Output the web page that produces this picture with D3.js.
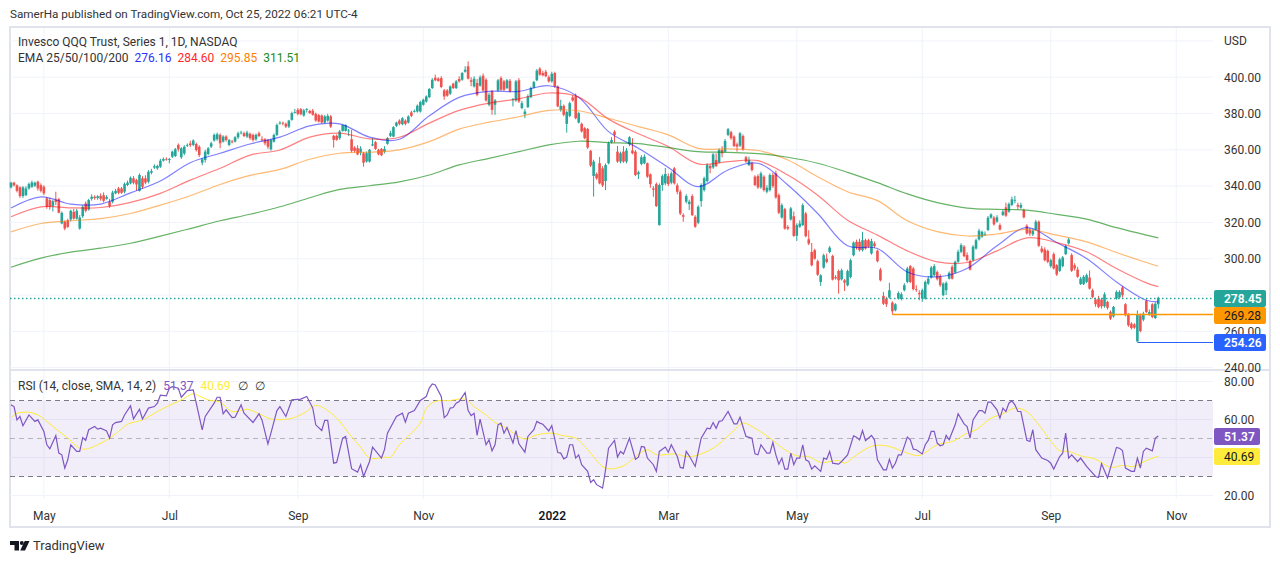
<!DOCTYPE html>
<html>
<head>
<meta charset="utf-8">
<script src="https://d3js.org/d3.v7.min.js"></script>
<style>
  html, body { margin: 0; padding: 0; background: #fff; }
  svg { display: block; }
  text { font-family: Roboto, sans-serif; font-size: 12px; fill: #333; }
</style>
</head>
<body>
<svg id="chart" width="1280" height="563"></svg>
<script>
// candles, ten per row
var opens = [
339.3,341.9,340.5,339.3,334.5,335,338.7,339.6,340.2,342.4,
340.5,339.6,333.2,332.3,329,332.6,332.8,319.4,320.3,321.2,
321.6,325.8,322.1,316.6,323.4,330.4,327.1,333,334.1,333.4,
334.6,335,333,331.4,331.4,336,338.7,338.7,336.9,340.6,
341.5,344.3,343.3,337.4,344.3,344.3,342.4,347.4,350.2,349.8,
350.7,354,355,354.4,356.2,356.6,362.7,355.9,358,362.5,
363.5,362.7,363.2,361.7,352.9,354.4,357.7,361.7,365.1,365.8,
368.2,364.5,367.3,362.7,364.6,364.5,366.9,369.4,369.1,367.3,
368.8,368.2,365.8,369.1,365.8,365.8,365.4,360.3,364.5,368.2,
374.6,374.9,374.3,372.8,376.5,380.4,382,382.4,378.9,382.1,
381.5,381.5,379.8,379.1,378.9,375,376.1,378.4,367.7,367.7,
366.4,370.4,370.4,370.4,365.8,361.2,360.9,358.5,358.1,353.5,
353.5,362.3,364.2,360,360.5,359,363.3,367.7,367.3,373.2,
376.1,374.1,376.1,375,380.6,381,381.1,381.1,384.8,386.6,
389,394,399.7,399.2,399.5,392.7,392.7,390.9,396.4,394,
399,398.6,403,406,398.3,394.9,396.8,395.3,400.8,398.6,
384.8,392.2,384.8,392.7,399.5,397.7,394,398,387.7,387.2,
398.3,383,379.6,383.5,389,394.2,398.3,404.7,402.3,403,
400,397.7,402.3,394.9,382,384.2,374.3,378.7,388.9,389.4,
375,374.3,371.9,371.5,359.4,345.6,346.7,352.6,349.8,342.8,
352.6,364.2,370,359,353.5,359,353.5,363,359.6,359,
346.5,352.2,352.6,352.6,346.5,338.7,341.1,318.5,340.6,341.5,
345.5,341.9,349.8,340.4,336.9,324,331.4,330.1,334.5,323.1,
319.8,331.7,337.8,342.8,351.1,350.3,354.4,353.1,359.9,359,
368.2,369.7,367.3,363,362.3,367.6,355.9,351.6,352.6,345.2,
345.5,339.3,345.2,336.9,337.8,346.1,347,335,322.7,327.3,
317.5,321.6,323.4,312.6,317.6,318.5,324.9,310.7,303.7,304.7,
298.6,287.2,295.1,300,303.7,301.5,289.9,293.2,288.6,288.1,
285.3,289.9,301.9,309.3,309.3,304.7,310.2,310.2,302.9,308.4,
304.4,294,279.5,278,278.6,275.8,271.6,278,277.8,282.6,
287.2,295.9,294.6,283.3,281.1,278,278,286.3,289.6,290.9,
292.7,290.3,279.9,282.6,289,295.5,292.4,298.3,303.8,306.6,
302,298.6,299.2,305.6,310.6,312.1,313.5,315.8,322.6,322.6,
320.4,318.5,324.1,328.3,325.9,329.6,332.2,329.6,328.1,326.8,
318.2,315.8,313.4,316.1,320.4,305.6,305.1,304.3,295.9,302.5,
296.4,293.3,295.9,302.5,308.4,302,296.4,294,286,286,
287.2,289.6,282.6,277.5,278,277.5,273.8,276.2,270.6,268.2,
278,278.6,284.1,274.9,269.3,264.2,263.8,254.4,268.8,266.4,
276.7,269.3,274.9,267.3,274.9];
var highs = [
342.4,342.4,341,340,340,340,342,343,342.5,343,
341.5,340.5,334,333.5,332.5,336.9,333.5,326,321,322,
327,327.5,327.5,324,329.5,331.5,333,335.5,335,335,
336,336.5,335,333,337.5,338.5,339.5,339.5,342,343,
345.3,345.5,344,347,345.5,346,348.8,349.5,352,351.8,
355,355.8,355.8,355.5,359.5,361,363.5,361.5,362.5,363.5,
365,365.8,364,362.5,355.5,360,361.5,364.5,369,369.5,
369,368,368,366,365.5,367.5,370,370.5,370,370.5,
369.5,369,369,370,367.5,366.5,366,366,369,374.5,
375.8,375.5,375,376.5,381,382.5,383,383,382.5,383,
382,382.5,380.5,379.8,379.5,379.2,379.8,379.2,368.2,368.5,
371,374,374,371.5,371,362,362.5,362,358.8,359,
360.5,366.4,364.8,360.5,361,362,367,370.5,373,375.5,
376.8,378,376.8,379,381.5,382.2,385,387,388.2,390,
394,399.5,401.4,400,400.5,393.5,393.5,395.5,397,398.5,
400.5,402.8,406,408.7,400,400.5,399,401,402,399.5,
391.5,393,388,399,400.5,398.5,399,399,388.5,398.5,
399.5,387,382.5,390.5,394.8,398,404.5,405.5,403.5,404,
401,403,403,395.5,387.6,385,381.5,386.5,390,391,
381,375,372.5,372,360,354.5,347.5,356,351,352.5,
364.5,367,370.8,362.1,359,362,361,367.5,366.4,359.8,
348.5,357,357.5,353,347,340,342,341.5,346.5,350,
347,348,350.5,341.5,338,325,335.5,332.5,335.5,324,
329.5,341.5,345.2,352.5,352,358.2,358,360.8,362,366,
372,370.5,368,364,369.8,368.5,356.6,356.2,353.5,346,
346.5,348,346,340.5,347,347.4,348.5,336,330.5,328,
318.5,328.5,326,319.5,321.2,330.5,325.8,315.7,308.7,305.5,
299.5,291.5,302.8,302.8,307,302.2,291,294,294.5,288.8,
294,300,309.5,310.5,311,314.8,311,311,311,309.5,
305,295,281.7,279,286.7,276.5,275.5,282,281.5,286.5,
295.5,296.5,295.5,285.4,282.6,283.5,288,290.5,296,297,
293.5,291.5,287,287.5,293,296.5,299,305,308.5,307.5,
303.5,299.5,307.5,311,316.5,315.5,315,323.5,325,323.5,
324,319.5,327,330.9,331,334.2,334.6,330.9,330.9,327.5,
319,317,316.5,321.4,321,307,306.3,305,300,303.5,
297,300.5,301.5,307.8,311.5,303,297.5,295.5,290,291,
291.8,293.5,283.5,278.5,279.5,278.5,281.5,276.8,271.5,274,
282.5,282.6,284.8,275.5,270,265,264.5,271.5,269.8,270.8,
277.5,272,275.5,276,279.1];
var lows = [
338.7,339.8,336.5,333.5,333.5,334.5,338,339,339.5,337.5,
336.5,335,327.5,327,326,329.5,325,319,315.7,317,
320.5,321.5,321.5,316,322.5,325.5,326.5,332,332.5,332.5,
332,331,332.5,328,330.5,335.5,335.5,335.8,336,340,
341,341,337.5,337,338.5,341,341.5,346.5,349.5,349,
350,353.5,354,352.5,355.5,356,359,355,357,361.5,
361.5,362,359,356,351.5,353,357,361,364.5,365,
360.8,364,364.5,362,363.5,364,366,368.5,367,366.5,
365.5,364.5,365,367,364.5,362.5,360.5,359.5,364,367.5,
373.8,373.5,372,372,376,380,379,379,378.2,380.5,
379.8,378.8,375.5,375,374.5,374.5,375.5,372,361.2,365,
365.5,370,370,367.7,358.5,358.5,357,357,350.7,353,
353,362,360,357,356.5,358,362.8,367,367,372.5,
373.5,373.5,373.5,374.5,378,380.5,380.5,380.5,384.3,386,
388.5,393.5,397.8,397.5,394,387.6,389.2,390.2,393.5,393.5,
397,398,402.5,398.8,395,394.3,389.5,394.8,392,386.5,
384,379.3,379.3,392,392.5,392.5,393.5,391.5,383.9,386.5,
385.8,382.3,377.4,383,388.5,393.8,397.8,400.8,400.5,400,
397,397,394.2,383.5,381,378.5,369.5,378,386.5,376.8,
374.5,369.5,365.8,360.5,350.5,334.2,343.5,341,339.5,337.8,
352,363.5,364,352.8,352.5,352.8,352.5,362,357.5,345.5,
343.9,351.5,352,344.5,339.1,334.1,328.5,318.3,337.4,340.5,
340,341,340.8,335.5,324,320.3,330.5,326.8,323.5,317,
319,328.6,337,342,347,349.5,350.5,352.5,355.9,358.5,
367.5,365.5,361.5,359,361.5,359.5,352.8,351,348,340,
338.5,338.5,337,336,337,339,333,324.5,322,316,
315.7,321,312,309.8,317,318,311.8,307.5,295.8,299.5,
290.5,285,294.5,297.5,303,288,288.5,280.7,288,282.2,
284.8,289.2,301.3,305,304,304,305,306,302.2,306,
298,287.5,274.5,273.4,278,269.28,271,277.5,277,282,
286.5,286.5,282.5,281.7,277.1,276.2,277.5,285.5,289,290.2,
288,284.5,279.3,280,288.5,288.5,291.8,297.8,303,300.8,
298.5,293.5,298.5,305,310,311.5,312.5,315.2,322,318.2,
319.8,315.5,323.5,323,325.3,329,330.5,327.2,327.5,322.2,
313.3,312.5,312.5,315.5,306.5,303,298.5,297.5,295,294,
290.5,292.7,295.2,302,307.8,292.7,293.5,289.5,285.5,285.5,
286.5,283,278.2,273.5,272.7,272.5,273,272,266.2,267.5,
277.5,278,278.5,268.2,262.5,261,261.3,254.26,259.5,265.5,
270,268.5,267.2,266.8,272.5];
var closes = [
341.9,340.4,337.4,334.5,339.3,338.7,341.1,342,341.9,338.7,
337.4,336,328.6,328.6,331.7,331.3,325.3,325.3,316.6,317.5,
326.4,322.1,326.4,322.7,328.6,326.4,332.3,334.1,333.4,334.4,
333,331.9,334,329.1,336.5,337.4,336.3,336.3,341.1,341.9,
344.6,341.9,340.9,346.1,339.6,341.9,347.9,348.3,351,351.1,
354,354.9,354.6,354.9,359,360.3,360.3,360.8,361.7,362.7,
362.6,365.1,359.9,357.1,354.8,359,360.8,363.6,368.2,368.6,
363.6,367.3,365.4,365.4,364.2,366.9,369.1,369.5,367.6,369.5,
366.4,365.4,368.2,367.6,365.4,363.6,361.7,365.4,368.2,373.7,
374.9,374.5,372.8,376.1,380.2,380.8,379.8,379.6,381.7,382.4,
380.2,379.3,376.1,375.6,375,378.4,378.7,372.8,365.5,365.5,
370.1,373.6,373.6,370.6,359.4,359.4,357.5,360.7,352.9,358.1,
360,363,360.5,357.5,357,360.5,366.4,369.2,372.5,375,
374.3,377.4,374.3,378.4,378.7,381.3,384.3,386.3,387.6,389.4,
393.5,398.6,398.3,398,394.6,389.4,389.8,394.9,394,397.7,
397.7,402.3,404.1,399.2,397.5,399.2,390.3,399.9,392.7,387.2,
390.3,382,387.2,398.3,393.1,393.1,398.3,392.2,388,397.7,
386.6,385.7,381.1,389.4,394,397.3,403.6,401.4,401,400.5,
397.7,401.9,394.9,383.9,384.2,379.3,380.8,385.7,387.2,377.4,
380.2,370.1,366.4,361.2,351.3,353.5,344.3,341.5,340.4,351.6,
363.6,365.4,368.2,353.5,358.1,353.5,359.6,366.9,358.1,346.1,
347.6,355.9,356.2,345.2,341.1,338,329,340.6,345.5,346.7,
341.1,347,341.5,336.9,324.9,323.1,334.5,331.4,324,317.6,
328.6,340.6,344.3,351.6,349.8,357.5,351.1,359.9,358.1,364.9,
371.3,366.4,362.1,361.8,369.1,360.3,353.5,354.4,348.9,340.6,
339.3,347,337.8,339.1,346.1,340,333.8,325.3,329.5,316.6,
316.6,327.7,312.6,318.5,319.4,329.5,312.4,308.3,296.4,300,
291.2,290.8,301.9,298.2,306.1,288.5,289.2,288.1,293.6,286.8,
293.2,299.1,308.9,306,304.7,310.2,305.6,306.6,309.7,306.9,
298.6,288.1,275.2,274.9,282.6,271,274.9,281.1,280.4,285.4,
294.6,287.2,283.2,283.1,280.4,282.6,287.2,289,295.1,295.9,
288.7,285.4,286.3,286.7,292.2,289,298.3,303.8,307.5,301.4,
299.2,294,306.6,310.2,315.4,314.8,313.7,322.6,324.4,318.9,
322.8,316.1,325.9,323.7,330.1,332.7,332.4,328.7,329.6,322.8,
313.9,313.9,315.4,320.4,307.1,303.8,299.2,298.3,299.2,294.6,
291.3,299.6,300.7,306.9,310.6,293.3,294.6,290,289,290,
290.9,283.5,278.9,274.9,273.4,273.8,280.4,273,267,273.4,
281.7,281.7,279.9,268.8,263.3,261.8,262,269.3,260.1,269.7,
270.6,270.6,267.9,275.2,278.45];

// moving averages, read every ten bars
var emaBars = [0,10,20,30,40,50,60,70,80,90,100,110,120,130,140,150,160,170,180,190,200,210,220,230,240,250,260,270,280,290,300,310,320,330,340,350,360,370,380,384];
var ema25 = [327.9,334.1,330.1,330.1,336.3,342.8,352.9,358.1,363.2,367,373.2,374.3,367,365.8,378.7,388.9,392.2,392.2,395.3,389,370,360.8,350.3,339.7,348.9,352.6,340.6,324.9,307.1,305.6,292.7,290,294.6,307.1,317.1,308.9,300.1,287.2,277.1,276.16];
var ema50 = [323.1,328.6,328,328.2,331,336,343.3,349.8,357.1,359.9,367,369.2,366,366.9,374.7,381.7,385.7,388.1,391.3,389,376.9,368.8,361.8,352.2,353.5,354,346.1,335,321.2,313,304.3,298.3,297.9,304.3,311.5,308.9,303.8,294.6,286.7,284.6];
var ema100 = [314.8,319.4,320.9,322.1,324.9,329.5,334.7,340.9,345.9,349.2,354.8,358.1,358.7,360,364.5,371.4,375.2,378.2,381.7,381.5,377.4,372.8,368.2,360.8,360.5,359.6,354.4,345.2,336.9,332,320.9,314.9,312.5,313.6,316.1,313,309.3,303.4,297.9,295.85];
var ema200 = [295.3,300.3,303.6,305.8,308.5,312.4,316.6,320.9,324.5,328.6,333.6,338.2,340.2,342.3,346.1,351.7,355.3,359,362.7,364.7,364,363.4,361.2,359,358.6,357.9,355.9,352.6,347.6,341.9,335.7,330.9,327.9,327.2,326.8,324.4,321.8,317.1,313,311.51];

// RSI turning points
var rsiBars = [0,1,2,3,4,6,8,9,11,12,13,15,16,17,18,19,20,22,23,24,25,26,28,29,30,32,33,34,35,37,38,40,41,43,44,46,48,49,50,52,53,54,56,57,59,61,62,64,65,68,69,70,71,72,74,75,77,78,81,83,84,86,87,89,90,92,94,97,99,101,102,104,105,106,108,109,111,112,114,116,117,118,120,121,124,125,126,129,131,132,133,135,137,139,140,141,142,144,145,146,147,148,149,150,152,153,154,155,156,157,159,160,161,162,163,164,165,166,168,169,170,172,173,175,176,177,178,180,181,183,184,185,186,187,188,189,190,191,193,194,195,196,198,199,200,202,203,204,205,207,209,210,211,212,213,215,216,217,219,220,221,223,224,225,226,227,229,231,233,234,235,236,237,238,240,242,243,244,246,248,249,250,251,253,254,255,256,257,258,259,260,261,262,263,264,265,266,267,268,269,271,272,273,274,275,277,278,280,282,283,284,285,286,288,289,290,292,293,294,295,296,297,298,300,301,302,303,305,306,307,308,309,310,311,312,313,314,316,317,319,320,321,322,324,325,326,327,328,330,331,332,333,334,335,336,337,338,340,341,342,343,345,347,348,349,351,352,353,354,355,357,358,360,363,364,365,367,370,371,372,373,375,376,377,378,379,380,382,383,384];
var rsiValues = [67.7,66.8,59.8,61.6,56.7,62.4,59,59.8,53.7,46.7,44.6,51.6,42.3,41.4,34.4,38.8,46.7,43.2,43.2,50.5,49,54.6,56.3,54.9,55.4,54,50.2,57.2,58.4,59,62.4,67.2,60.3,65.4,60.3,66,66.8,68.6,72.8,72.4,76.5,77.3,76.5,71.7,75.2,75.6,68.6,54.6,61.6,68.6,71.7,71.7,63,65.1,61,61.2,67.7,63.3,58.4,63,59.8,47.2,52.8,64.7,66.8,61.6,70.3,70.7,72.1,66,57.2,54.2,59.5,59.5,37,37.4,50.2,51.1,34.1,32.3,36.2,30,37.9,45.5,39.7,44.1,52.8,61.6,63.3,58.6,63.3,64.7,70,72.1,76.5,78.7,78.2,72.1,61,62.4,66,66.3,68.6,69.5,74.2,64.7,62.1,63.3,51.6,60.2,46.7,49.3,43.5,46.7,57.2,58.1,52.8,55.8,47.6,54.2,47.2,42.8,51.1,54.6,59,58.1,57.5,54,56.8,42.6,42.3,39.3,40.2,46.7,46.7,39.7,41.4,36.2,32.7,26.9,28.3,25.7,23.9,33.5,44.9,49,40.2,43.2,41.9,50.2,39.1,40.2,45.8,45.5,39.7,36.2,32.7,43.2,45.5,42.8,46.7,40.5,34.8,34.4,43.2,40.9,35.3,50.2,55.4,55.1,58.4,55.4,59,59.3,64.2,57.7,57.7,61.2,51.1,50.2,41.9,41.4,46.7,42.3,42.3,47.9,41.4,36.5,39.7,33.9,33.9,42.3,36.2,39.7,39.7,46.7,38.8,37.9,33.9,35.6,32.7,39.7,39.1,43.2,37,36.5,37.9,41.4,51.4,50.7,49.3,54.2,48.9,51.6,49.3,38.8,33.5,33.5,39.1,34.4,37,41.4,41.4,50.7,49.3,44.4,44.1,41.9,46.7,49,53.7,53.7,47.6,46.2,46.7,51.6,49.3,57.2,63,57.7,56.3,50.2,59.8,64.7,64.7,63.3,69.1,69.1,65.1,60.7,66,64.2,68.6,69.8,67.7,64.2,64.2,49,48.4,54.6,44.1,39.7,38.4,37,33.9,40.5,42.3,52.8,39.7,41.4,37.9,39.7,35.3,30,29.5,36.7,29.2,45.3,44.9,43.7,34.4,32.7,32.7,39.7,34.4,43.2,44.9,43.5,50.2,51.37];
var smaBars = [0,2,4,6,9,12,15,19,23,25,29,33,36,39,44,49,53,57,61,63,66,70,74,79,83,87,93,98,102,106,110,113,117,120,125,127,130,137,139,142,147,152,155,159,162,166,169,172,176,181,185,189,193,199,205,208,213,216,222,226,229,235,241,245,248,254,259,263,267,271,277,279,282,285,289,294,300,304,310,315,320,323,328,332,336,340,344,349,351,354,358,363,368,372,376,380,384];
var smaValues = [61,63.3,63.8,63.8,62.4,59,55.1,50.2,44.9,44.4,46.7,50.2,53.7,57.5,59.8,64.2,67.4,70.3,73.5,72.4,70.3,69.1,64.2,65.4,63,60.3,60.3,63.3,67.4,64.7,59,52.8,45.5,39.7,40.2,40.2,46.7,58.1,65.9,69.5,70,70.7,66.8,62.4,58.4,55.4,51.9,49.7,51.9,52.8,51.4,50.2,44.1,34.4,35.6,39.1,44.1,41.4,41.9,40.5,40.9,44.9,52.8,58.1,56.3,50.2,44.1,40.9,40.5,37.4,38.4,37,40.2,43.5,46.3,45.8,42.3,41.1,46.7,48.4,52.8,54.6,60.7,63,66,64.2,57.2,46.7,43.5,43.2,40.9,39.1,34.8,35.8,35.3,38.4,40.69];

// axes
var priceTicks = [420,400,380,360,340,320,300,280,260,240];
var priceLabels = [400,380,360,340,320,300,260,240];
var rsiTicks = [80,60,40,20];
var rsiLabels = [80,60,20];
var monthBars = [11,53,96,138,181,220,263,305,348,390];
var monthLabels = ["May","Jul","Sep","Nov","2022","Mar","May","Jul","Sep","Nov"];

var lastClose = 278.45, prevLow = 269.28, yearLow = 254.26, lowBar = 377, prevLowBar = 295;
var rsiLast = 51.37, smaLast = 40.69;

var UP = "#26a69a", DOWN = "#ef5350", GRID = "#f0f3fa", BORDER = "#e0e3eb";
var paneLeft = 10, paneRight = 1213;

var svg = d3.select("#chart");

var x = d3.scaleLinear().domain([0, 384]).range([11, 1158.3]);
var y = d3.scaleLinear().domain([240, 400]).range([367.6, 77.2]);
var yRsi = d3.scaleLinear().domain([20, 80]).range([495.5, 381.5]);

svg.append("text").attr("x", 10).attr("y", 18).style("font-size", "11.7px")
  .text("SamerHa published on TradingView.com, Oct 25, 2022 06:21 UTC-4");

// frame
svg.append("rect").attr("x", 10).attr("y", 27).attr("width", 1260).attr("height", 500)
  .attr("fill", "#fff").attr("stroke", BORDER).attr("stroke-width", 2);

// grid
var hGrid = svg.append("g").attr("stroke", GRID);
hGrid.selectAll("line.p").data(priceTicks).join("line").attr("class", "p")
  .attr("x1", paneLeft).attr("x2", paneRight).attr("y1", d => y(d)).attr("y2", d => y(d));
hGrid.selectAll("line.r").data(rsiTicks).join("line").attr("class", "r")
  .attr("x1", paneLeft).attr("x2", paneRight).attr("y1", d => yRsi(d)).attr("y2", d => yRsi(d));
hGrid.selectAll("line.t").data(monthBars).join("line").attr("class", "t")
  .attr("x1", d => x(d)).attr("x2", d => x(d)).attr("y1", 28).attr("y2", 499);

svg.append("line").attr("x1", 10).attr("x2", 1270).attr("y1", 370).attr("y2", 370)
  .attr("stroke", BORDER).attr("stroke-width", 2);

// RSI band under the lines
svg.append("rect").attr("x", paneLeft).attr("width", paneRight - paneLeft)
  .attr("y", yRsi(70)).attr("height", yRsi(30) - yRsi(70))
  .attr("fill", "rgba(126,87,194,0.1)");
[70, 50, 30].forEach(function (v) {
  svg.append("line").attr("x1", paneLeft).attr("x2", paneRight).attr("y1", yRsi(v)).attr("y2", yRsi(v))
    .attr("stroke", "#787b86").attr("stroke-opacity", v == 50 ? 0.5 : 1)
    .attr("stroke-dasharray", "5,4");
});

// candles
var bars = d3.range(closes.length);
var color = i => closes[i] >= opens[i] ? UP : DOWN;
var candles = svg.append("g");
candles.selectAll("line").data(bars).join("line")
  .attr("x1", i => x(i)).attr("x2", i => x(i))
  .attr("y1", i => y(highs[i])).attr("y2", i => y(lows[i]))
  .attr("stroke", color).attr("stroke-width", 1);
candles.selectAll("rect").data(bars).join("rect")
  .attr("x", i => x(i) - 1.3).attr("width", 2.6)
  .attr("y", i => y(Math.max(opens[i], closes[i])))
  .attr("height", i => Math.max(0.8, Math.abs(y(opens[i]) - y(closes[i]))))
  .attr("fill", color);

// EMAs
var emaLine = d3.line().x((d, i) => x(emaBars[i])).y(d => y(d)).curve(d3.curveCatmullRom);
[[ema25, "#0000ff", 0.5], [ema50, "#ff0000", 0.5], [ema100, "#ff8000", 0.55], [ema200, "#008000", 0.6]].forEach(function (s) {
  svg.append("path").attr("d", emaLine(s[0])).attr("fill", "none")
    .attr("stroke", s[1]).attr("stroke-opacity", s[2]).attr("stroke-width", 1.2);
});

// price lines, snapped to the pixel so they stay crisp
var crisp = v => Math.floor(y(v) + 0.3) + 0.5;
svg.append("line").attr("x1", paneLeft).attr("x2", paneRight).attr("y1", crisp(lastClose)).attr("y2", crisp(lastClose))
  .attr("stroke", UP).attr("stroke-width", 1.5).attr("stroke-dasharray", "1.5,2.5");
svg.append("line").attr("x1", x(prevLowBar)).attr("x2", paneRight).attr("y1", crisp(prevLow)).attr("y2", crisp(prevLow))
  .attr("stroke", "#ff9800").attr("stroke-width", 1.5);
svg.append("line").attr("x1", x(lowBar)).attr("x2", paneRight).attr("y1", crisp(yearLow)).attr("y2", crisp(yearLow))
  .attr("stroke", "#2962ff").attr("stroke-width", 1.2);

// RSI lines
svg.append("path")
  .attr("d", d3.line().x((d, i) => x(smaBars[i])).y(d => yRsi(d)).curve(d3.curveCatmullRom)(smaValues))
  .attr("fill", "none").attr("stroke", "#ffeb3b").attr("stroke-width", 1);
svg.append("path")
  .attr("d", d3.line().x((d, i) => x(rsiBars[i])).y(d => yRsi(d))(rsiValues))
  .attr("fill", "none").attr("stroke", "#7e57c2").attr("stroke-width", 1.2);

// axes
function cleanAxis(g) {
  g.select(".domain").remove();
  g.selectAll(".tick line").remove();
  g.selectAll("text").attr("font-family", null).attr("font-size", null);
}
svg.append("g").attr("transform", "translate(1213,0)")
  .call(d3.axisRight(y).tickValues(priceLabels).tickFormat(d3.format(".2f")).tickPadding(5))
  .call(cleanAxis);
svg.append("g").attr("transform", "translate(1213,0)")
  .call(d3.axisRight(yRsi).tickValues(rsiLabels).tickFormat(d3.format(".2f")).tickPadding(5))
  .call(cleanAxis);
svg.append("g").attr("transform", "translate(0,505)")
  .call(d3.axisBottom(x).tickValues(monthBars).tickFormat((d, i) => monthLabels[i]).tickPadding(0))
  .call(cleanAxis)
  .selectAll("text").filter(d => d == 181).style("font-weight", 600).style("fill", "#131722");
svg.append("text").attr("x", 1224).attr("y", 44.5).text("USD");

// value badges
function badge(value, top, w, fill, ink) {
  svg.append("rect").attr("x", 1214).attr("y", top).attr("width", w).attr("height", 17).attr("rx", 2).attr("fill", fill);
  svg.append("text").attr("x", 1224).attr("y", top + 13).style("fill", ink).style("font-weight", ink == "#fff" ? 600 : 400)
    .text(d3.format(".2f")(value));
}
badge(lastClose, 290, 52, UP, "#fff");
badge(prevLow, 307, 52, "#ff9800", "#131722");
badge(yearLow, 334, 52, "#2962ff", "#fff");
badge(rsiLast, 428, 46, "#7e57c2", "#fff");
badge(smaLast, 448, 46, "#ffeb3b", "#131722");

// legends
function legend(px, py, parts, gap) {
  var t = svg.append("text").attr("x", px).attr("y", py);
  parts.forEach(function (p, i) {
    var s = t.append("tspan").text(p[0]).style("fill", p[1]);
    if (i) s.attr("dx", gap);
  });
}
legend(18, 45.5, [["Invesco QQQ Trust, Series 1, 1D, NASDAQ", "#333"]], 0);
legend(18, 62, [["EMA 25/50/100/200", "#333"], [ema25[ema25.length - 1].toFixed(2), "#3030ff"], [ema50[ema50.length - 1].toFixed(2), "#ff2a2a"], [ema100[ema100.length - 1].toFixed(2), "#ff8000"], [ema200[ema200.length - 1].toFixed(2), "#228b22"]], 6);
legend(18, 390, [["RSI (14, close, SMA, 14, 2)", "#333"], [rsiLast.toFixed(2), "#7e57c2"], [smaLast.toFixed(2), "#ffeb3b"], ["∅", "#333"], ["∅", "#333"]], 7);

// TradingView mark
svg.append("path").attr("d", "M10 541h9v9.5h-4.5v-5.5h-4.5z M29.5 541l-4.5 9.5h-4.8l4.5-9.5z").attr("fill", "#131722");
svg.append("circle").attr("cx", 21.8).attr("cy", 543).attr("r", 2).attr("fill", "#131722");
svg.append("text").attr("x", 33).attr("y", 550).style("font-size", "13px").text("TradingView");
</script>
</body>
</html>
